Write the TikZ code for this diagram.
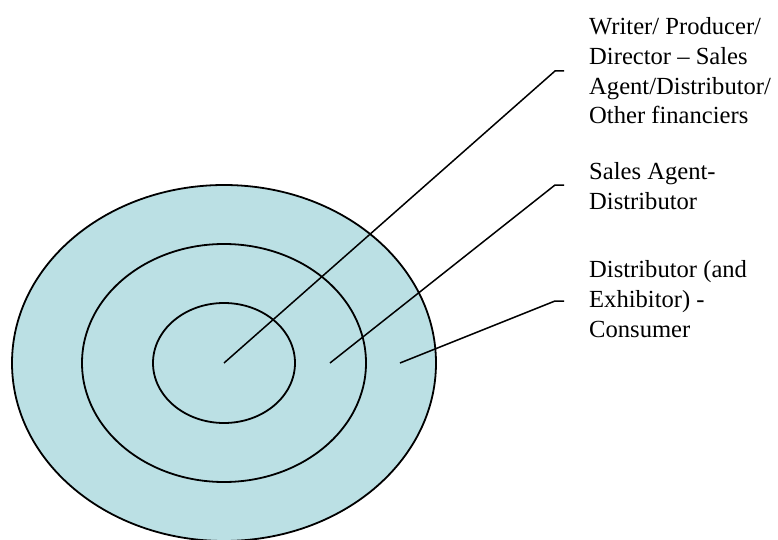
\documentclass[tikz,border=0pt]{standalone}
\usepackage{fontspec}
\setmainfont{Liberation Serif}
\usepackage{xcolor}
\usepackage{tikz}
\usetikzlibrary{positioning,calc}

\definecolor{ringblue}{RGB}{187,224,228}

\begin{document}
\begin{tikzpicture}[x=1pt, y=-1pt,
    ring/.style={draw, line width=1.8pt},
    leader/.style={draw, line width=1.5pt},
    tag/.style={anchor=base west, align=left, inner sep=0pt,
                font=\fontsize{24.6}{29.7}\selectfont}]
    \useasboundingbox (0,0) rectangle (778,540);

    % target rings
    \coordinate (ctr) at (224,363);
    \fill[ringblue] (ctr) ellipse [x radius=212, y radius=178];
    \draw[ring] (ctr) ellipse [x radius=212, y radius=178];
    \draw[ring] (ctr) ellipse [x radius=142, y radius=119];
    \draw[ring] (ctr) ellipse [x radius=71, y radius=60];

    % labels (anchored on the last line)
    \node (core) [tag] at (589,124) {Writer/ Producer/\\Director -- Sales\\Agent/Distributor/\\Other financiers};
    \node (mid) [tag] at (589,209) {Sales Agent-\\Distributor};
    \node (outer) [tag] at (589,337) {Distributor (and\\Exhibitor) -\\Consumer};

    % leaders
    \coordinate (p1) at (ctr);
    \coordinate (p2) at (330,363);
    \coordinate (p3) at (400,363);
    \coordinate (k1) at (555,71);
    \coordinate (k2) at (555,185);
    \coordinate (k3) at (555,301);
    \draw[leader] (p1) -- (k1) -- ++(9,0);
    \draw[leader] (p2) -- (k2) -- ++(9,0);
    \draw[leader] (p3) -- (k3) -- ++(9,0);
\end{tikzpicture}
\end{document}
